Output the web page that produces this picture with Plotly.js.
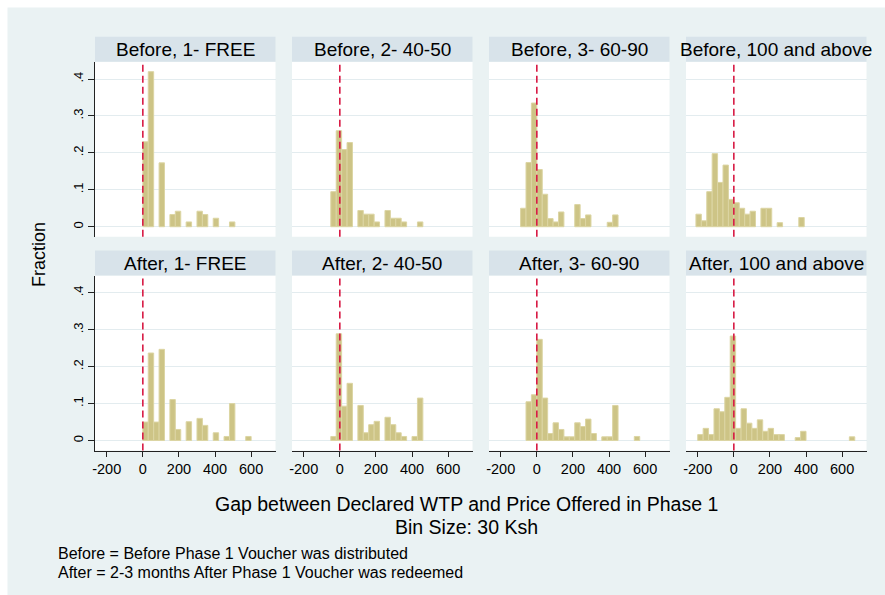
<!DOCTYPE html>
<html><head><meta charset="utf-8">
<script src="https://cdn.plot.ly/plotly-3.0.1.min.js"></script>
<style>html,body{margin:0;padding:0;background:#fff}#chart{width:885px;height:595px}</style>
</head><body><div id="chart"></div>
<script>
// ---------- data ----------
const binWidth = 30;
const panelTitles = ["Before, 1- FREE", "Before, 2- 40-50", "Before, 3- 60-90", "Before, 100 and above",
                     "After, 1- FREE", "After, 2- 40-50", "After, 3- 60-90", "After, 100 and above"];
// left edge of the first bin in each panel
const binStarts = [0, -50, -90, -210, 0, -50, -60, -200];
// fraction per 30-Ksh bin
const beforeFree  = [0.23, 0.42, 0, 0.173, 0, 0.033, 0.042, 0, 0.013, 0, 0.042, 0.033, 0, 0.023, 0, 0, 0.013];
const before4050  = [0.095, 0.26, 0.209, 0.228, 0, 0.044, 0.034, 0.034, 0.013, 0, 0.044, 0.023, 0.023, 0.013, 0, 0, 0.013];
const before6090  = [0.05, 0.174, 0.335, 0.155, 0.088, 0.022, 0.013, 0.04, 0, 0, 0.06, 0.022, 0.032, 0, 0, 0, 0.012, 0.032];
const before100   = [0.034, 0.016, 0.095, 0.198, 0.12, 0.167, 0.074, 0.065, 0.05, 0.034, 0.042, 0, 0.05, 0.05, 0, 0.011, 0, 0, 0, 0.025];
const afterFree   = [0.05, 0.237, 0.05, 0.247, 0, 0.111, 0.03, 0, 0.051, 0, 0.06, 0.041, 0, 0.021, 0, 0.011, 0.1, 0, 0, 0.011];
const after4050   = [0.011, 0.289, 0.093, 0.155, 0, 0.095, 0.021, 0.043, 0.052, 0, 0.063, 0.043, 0.021, 0.011, 0, 0.011, 0.115];
const after6090   = [0.105, 0.124, 0.274, 0.115, 0.019, 0.048, 0.03, 0.01, 0.01, 0.048, 0.038, 0.058, 0.019, 0, 0.01, 0.01, 0.095, 0, 0, 0, 0.011];
const after100    = [0.016, 0.033, 0.016, 0.086, 0.078, 0.117, 0.283, 0.033, 0.086, 0.047, 0.033, 0.056, 0.025, 0.033, 0.016, 0.016, 0, 0, 0.008, 0.025, 0, 0, 0, 0, 0, 0, 0, 0, 0.01];
const panelValues = [beforeFree, before4050, before6090, before100, afterFree, after4050, after6090, after100];

const xTickVals = [-200, 0, 200, 400, 600];
const xTickText = ["-200", "0", "200", "400", "600"];
const yTickVals = [0, 0.1, 0.2, 0.3, 0.4];
const yTickText = ["0", ".1", ".2", ".3", ".4"];
const refValue = 0;
const yTitle = "Fraction";
const xTitleLines = ["Gap between Declared WTP and Price Offered in Phase 1", "Bin Size: 30 Ksh"];
const noteLines = ["Before = Before Phase 1 Voucher was distributed", "After = 2-3 months After Phase 1 Voucher was redeemed"];

// ---------- layout helpers ----------
const W = 885, H = 595;
const FONT = "Liberation Sans, Arial, Helvetica, sans-serif";
const px = x => x / W;
const py = y => 1 - y / H;
const colLeft = c => 95 + 197 * c;
const colRight = c => 275.5 + 197 * c;
const rowPlot = [[61.7, 236.7], [275.5, 450.5]];
const rowStrip = [[36.7, 61.7], [250.5, 275.5]];

const BG = "#eaf2f3", STRIP = "#d8e3ea", BAR = "#cdc486", BARLINE = "#dcd5a3", REF = "#d81b45", AX = "#222";

const traces = [];
const shapes = [{type: "rect", xref: "paper", yref: "paper", x0: px(7.5), x1: 1, y0: 0, y1: py(7.5),
                 fillcolor: BG, line: {width: 0}, layer: "below"}];
const annotations = [];
const layout = {
  width: W, height: H, margin: {l: 0, r: 0, t: 0, b: 0},
  paper_bgcolor: "#ffffff", plot_bgcolor: "rgba(0,0,0,0)",
  showlegend: false, bargap: 0, font: {family: FONT, color: "#000"},
};

panelValues.forEach((vals, i) => {
  const r = Math.floor(i / 4), c = i % 4;
  const xs = [], ys = [];
  vals.forEach((v, k) => { if (v > 0) { xs.push(binStarts[i] + binWidth * k + binWidth / 2); ys.push(v); } });
  const suf = i === 0 ? "" : String(i + 1);
  traces.push({type: "bar", x: xs, y: ys, width: binWidth, xaxis: "x" + suf, yaxis: "y" + suf,
               marker: {color: BAR, line: {color: BARLINE, width: 1}}, hoverinfo: "x+y"});
  const xd = [px(colLeft(c)), px(colRight(c))];
  const yd = [py(rowPlot[r][1]), py(rowPlot[r][0])];
  const bottom = r === 1, left = c === 0;
  layout["xaxis" + suf] = {
    domain: xd, range: [-265, 735], anchor: "y" + suf, showgrid: false, zeroline: false,
    showline: bottom, linecolor: AX, linewidth: 1,
    ticks: bottom ? "outside" : "", ticklen: 5, tickcolor: AX, tickwidth: 1,
    tickvals: xTickVals, ticktext: xTickText, showticklabels: bottom,
    tickfont: {family: FONT, size: 14.5, color: "#000"}, fixedrange: true
  };
  layout["yaxis" + suf] = {
    domain: yd, range: [-0.027, 0.447], anchor: "x" + suf, showgrid: true, gridcolor: "#e3ecef", gridwidth: 1,
    zeroline: false, showline: left, linecolor: AX, linewidth: 1,
    ticks: left ? "outside" : "", ticklen: 6, tickcolor: AX, tickwidth: 1,
    tickvals: yTickVals, ticktext: yTickText, showticklabels: left, tickangle: -90,
    tickfont: {family: FONT, size: 13, color: "#000"}, fixedrange: true
  };
  // white plot region
  shapes.push({type: "rect", xref: "paper", yref: "paper", x0: xd[0], x1: xd[1], y0: yd[0], y1: yd[1],
               fillcolor: "#ffffff", line: {width: 0}, layer: "below"});
  // strip
  shapes.push({type: "rect", xref: "paper", yref: "paper", x0: xd[0], x1: xd[1],
               y0: py(rowStrip[r][1]), y1: py(rowStrip[r][0]), fillcolor: STRIP, line: {width: 0}, layer: "below"});
  annotations.push({xref: "paper", yref: "paper", x: (xd[0] + xd[1]) / 2, y: py((rowStrip[r][0] + rowStrip[r][1]) / 2),
                    text: panelTitles[i], showarrow: false, xanchor: "center", yanchor: "middle",
                    font: {family: FONT, size: 19, color: "#000"}});
  // reference line at 0
  shapes.push({type: "line", xref: "x" + suf, yref: "y" + suf + " domain", x0: refValue, x1: refValue, y0: 0, y1: 1,
               line: {color: REF, width: 1.6, dash: "7px,4px"}, layer: "above"});
});

annotations.push({xref: "paper", yref: "paper", x: px(39), y: py(255), text: yTitle, textangle: -90, showarrow: false,
                  xanchor: "center", yanchor: "middle", font: {family: FONT, size: 18, color: "#000"}});
xTitleLines.forEach((t, k) => annotations.push({xref: "paper", yref: "paper", x: px(466), y: py(504 + 22.5 * k), text: t,
                  showarrow: false, xanchor: "center", yanchor: "middle", borderpad: 0,
                  font: {family: FONT, size: 19.5, color: "#000"}}));
noteLines.forEach((t, k) => annotations.push({xref: "paper", yref: "paper", x: px(57), y: py(553.5 + 19 * k), text: t,
                  showarrow: false, xanchor: "left", yanchor: "middle", borderpad: 0,
                  font: {family: FONT, size: 16, color: "#000"}}));

layout.shapes = shapes;
layout.annotations = annotations;
Plotly.newPlot("chart", traces, layout, {staticPlot: true, displayModeBar: false});
</script>
</body></html>
